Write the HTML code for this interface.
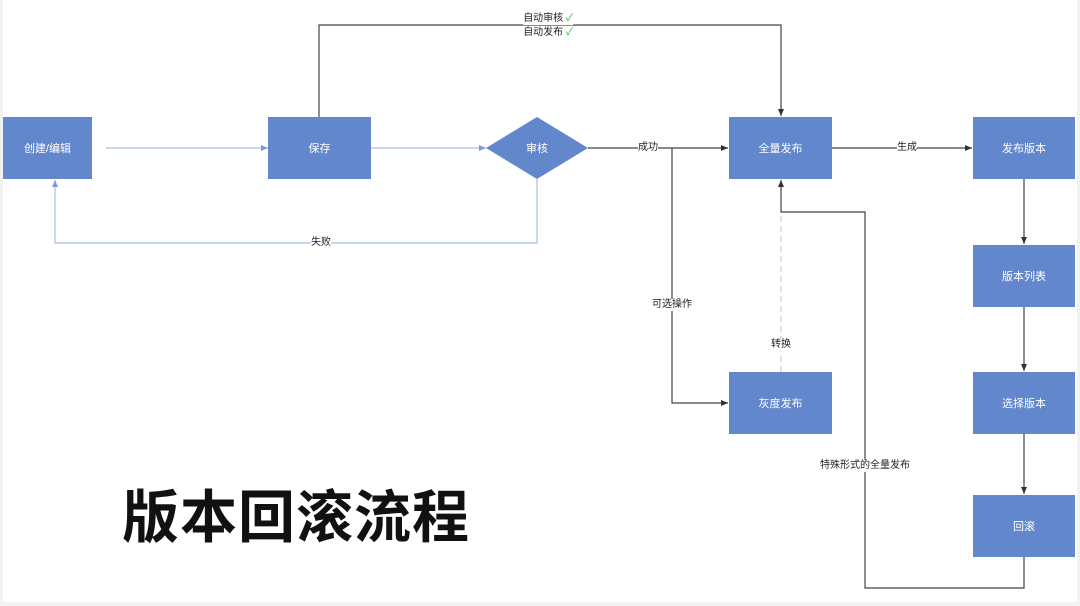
<!DOCTYPE html>
<html><head><meta charset="utf-8"><style>
html,body{margin:0;padding:0;background:#f2f2f2;}
#c{position:relative;width:1080px;height:606px;overflow:hidden;font-family:"Liberation Sans","Noto Sans CJK SC",sans-serif;}
.bg{position:absolute;left:3px;top:0;width:1074px;height:602px;background:#fff;}
.b{position:absolute;background:#6287cc;color:#fff;font-size:11px;display:flex;align-items:center;justify-content:center;}
.l{position:absolute;font-size:10px;color:#222;background:#fff;line-height:12px;white-space:nowrap;transform:translate(-50%,-50%);}
.t{position:absolute;left:122px;top:478px;font-size:57px;font-weight:bold;color:#111;letter-spacing:1px;font-family:"Noto Sans CJK SC",sans-serif;line-height:70px;}
</style></head><body><div id="c">
<div class="bg"></div>
<svg width="1080" height="606" style="position:absolute;left:0;top:0">
<defs>
<marker id="a" markerWidth="8" markerHeight="8" refX="7" refY="4" orient="auto" markerUnits="userSpaceOnUse"><path d="M0,1 L7,4 L0,7z" fill="#333"/></marker>
<marker id="ab" markerWidth="8" markerHeight="8" refX="7" refY="4" orient="auto" markerUnits="userSpaceOnUse"><path d="M0,1 L7,4 L0,7z" fill="#7c9bd8"/></marker>
</defs>
<g fill="none" stroke-width="1.2">
<path d="M106,148H268" stroke="#a9bfe8" marker-end="url(#ab)"/>
<path d="M371,148H486" stroke="#a9bfe8" marker-end="url(#ab)"/>
<path d="M537,179V243H55V180" stroke="#a9bfe8" marker-end="url(#ab)"/>
<path d="M319,117V25H781V116" stroke="#444" marker-end="url(#a)"/>
<path d="M588,148H728" stroke="#444" marker-end="url(#a)"/>
<path d="M672,148V403H728" stroke="#444" marker-end="url(#a)"/>
<path d="M832,148H972" stroke="#444" marker-end="url(#a)"/>
<path d="M781,372V212" stroke="#ccc" stroke-dasharray="6,4"/>
<path d="M1024,557V588H865V212H781V180" stroke="#444" marker-end="url(#a)"/>
<path d="M1024,179V244" stroke="#444" marker-end="url(#a)"/>
<path d="M1024,307V371" stroke="#444" marker-end="url(#a)"/>
<path d="M1024,434V494" stroke="#444" marker-end="url(#a)"/>
</g>
<polygon points="537,117 588,148 537,179 486,148" fill="#6287cc"/>
</svg>
<div class="b" style="left:3px;top:117px;width:89px;height:62px">创建/编辑</div>
<div class="b" style="left:268px;top:117px;width:103px;height:62px">保存</div>
<div class="b" style="left:486px;top:117px;width:102px;height:62px;background:none">审核</div>
<div class="b" style="left:729px;top:117px;width:103px;height:62px">全量发布</div>
<div class="b" style="left:729px;top:372px;width:103px;height:62px">灰度发布</div>
<div class="b" style="left:973px;top:117px;width:102px;height:62px">发布版本</div>
<div class="b" style="left:973px;top:245px;width:102px;height:62px">版本列表</div>
<div class="b" style="left:973px;top:372px;width:102px;height:62px">选择版本</div>
<div class="b" style="left:973px;top:495px;width:102px;height:62px">回滚</div>
<div class="l" style="left:548px;top:19px">自动审核 <span style="color:#3a3">✓</span></div>
<div class="l" style="left:548px;top:33px">自动发布 <span style="color:#3a3">✓</span></div>
<div class="l" style="left:321px;top:243px">失败</div>
<div class="l" style="left:648px;top:148px">成功</div>
<div class="l" style="left:907px;top:148px">生成</div>
<div class="l" style="left:672px;top:305px">可选操作</div>
<div class="l" style="left:781px;top:345px">转换</div>
<div class="l" style="left:865px;top:466px">特殊形式的全量发布</div>
<div class="t">版本回滚流程</div>
</div></body></html>
